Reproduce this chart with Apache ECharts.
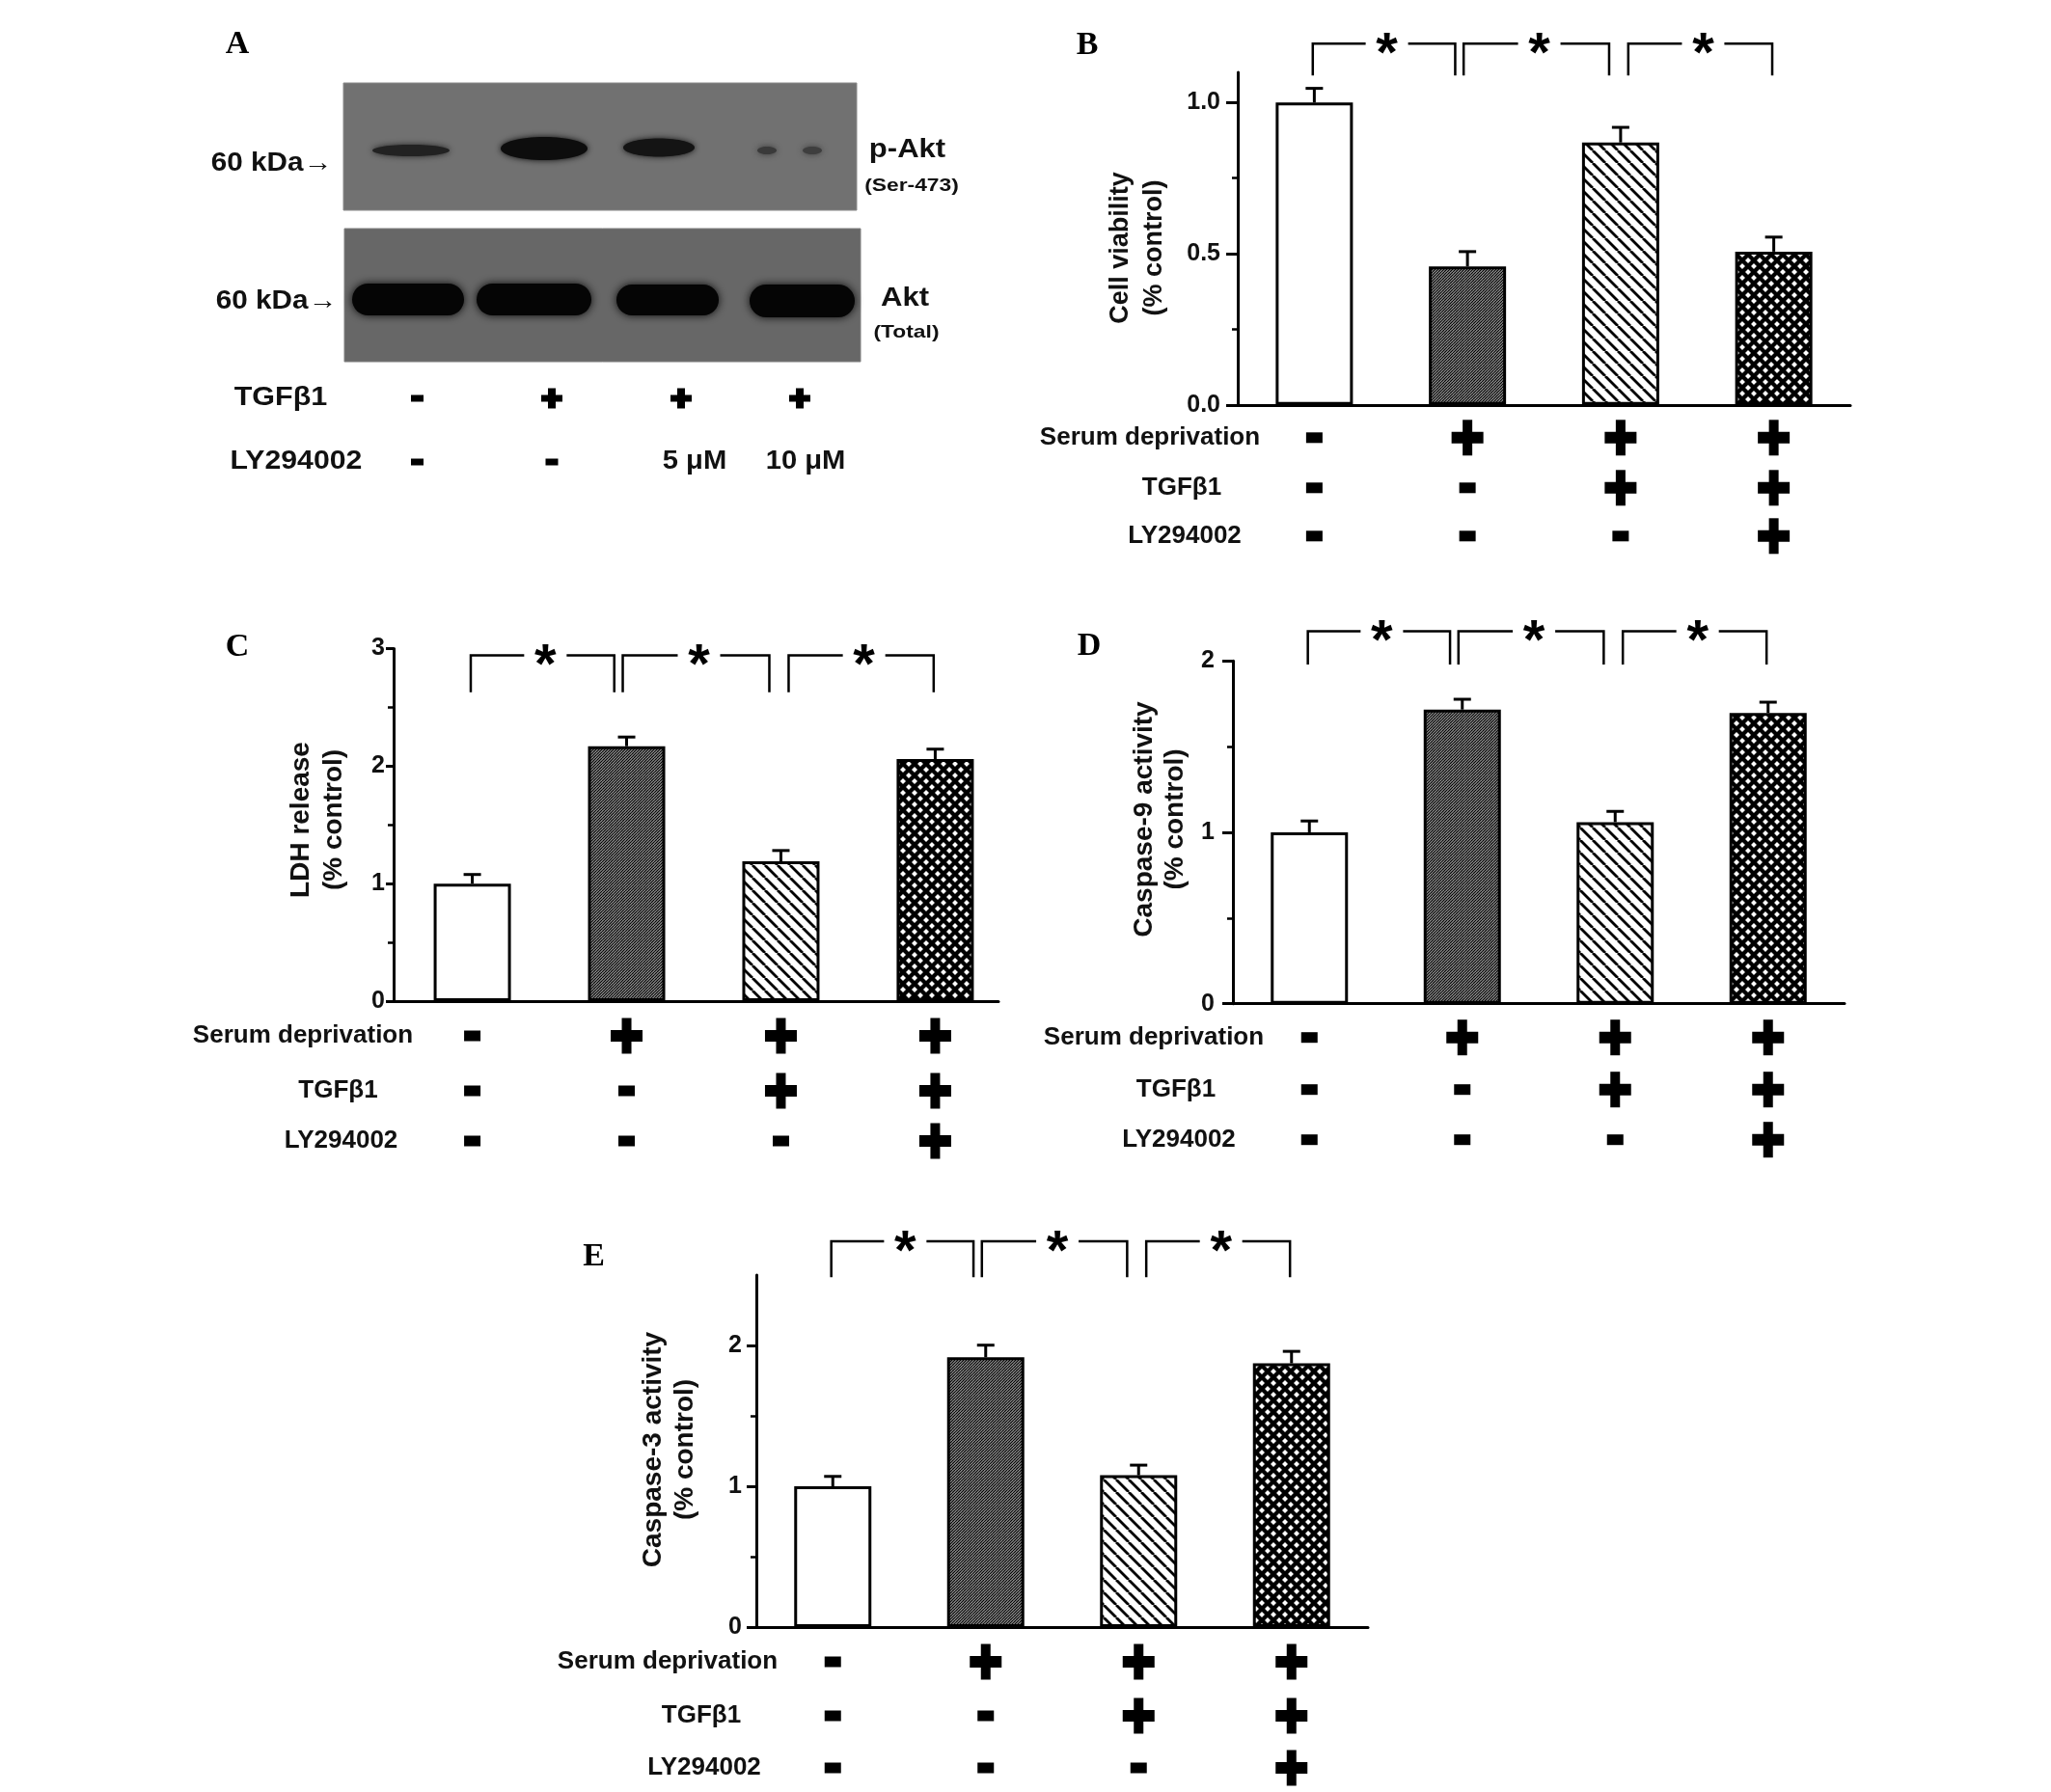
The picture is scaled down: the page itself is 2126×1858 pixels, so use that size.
<!DOCTYPE html>
<html><head><meta charset="utf-8">
<script src="https://cdn.jsdelivr.net/npm/echarts@6/dist/echarts.min.js"></script>
<style>html,body{margin:0;padding:0;background:#fff}#c{width:2126px;height:1858px}</style>
</head><body><div id="c"></div>
<script>
// ---------------- DATA ----------------
const groups = [1, 2, 3, 4];
const cellViability = [1.0, 0.458, 0.868, 0.507];
const cellViabilitySem = [0.047, 0.049, 0.050, 0.048];
const ldhRelease = [1.0, 2.17, 1.19, 2.06];
const ldhReleaseSem = [0.078, 0.078, 0.092, 0.085];
const caspase9 = [1.0, 1.716, 1.059, 1.696];
const caspase9Sem = [0.066, 0.060, 0.063, 0.063];
const caspase3 = [1.0, 1.916, 1.078, 1.873];
const caspase3Sem = [0.070, 0.086, 0.072, 0.085];
const serumDeprivation = [0, 1, 1, 1];
const tgfb1 = [0, 0, 1, 1];
const ly294002 = [0, 0, 0, 1];
const rowLabels = ['Serum deprivation', 'TGFβ1', 'LY294002'];
const comparisonStart = [0.99, 1.975, 3.05];
const comparisonEnd = [1.92, 2.925, 3.99];
const blotTgf = ['-', '+', '+', '+'];
const blotLy = ['-', '-', '5 μM', '10 μM'];
const viabilityTicks = [0, 0.5, 1.0];
const viabilityMinor = [0.25, 0.75];
const ldhTicks = [0, 1, 2, 3];
const ldhMinor = [0.5, 1.5, 2.5];
const caspaseTicks = [0, 1, 2];
const caspaseMinor = [0.5, 1.5];

// ---------------- STYLE / LAYOUT ----------------
const FONT = '"Liberation Sans", Arial, sans-serif';
function makePattern(kind) {
  const c = document.createElement('canvas');
  const ctx = c.getContext('2d');
  if (kind === 'dense') {
    c.width = 6; c.height = 6;
    ctx.fillStyle = '#a0a0a0'; ctx.fillRect(0, 0, 6, 6);
    ctx.strokeStyle = '#000'; ctx.lineWidth = 1.2;
    for (let k = -3; k <= 5; k++) { const s = 3 * k; ctx.beginPath(); ctx.moveTo(s, 0); ctx.lineTo(s - 6, 6); ctx.stroke(); }
  } else if (kind === 'sparse') {
    c.width = 13; c.height = 13;
    ctx.fillStyle = '#fff'; ctx.fillRect(0, 0, 13, 13);
    ctx.strokeStyle = '#000'; ctx.lineWidth = 2.8;
    for (let k = -1; k <= 1; k++) { const s = 13 * k; ctx.beginPath(); ctx.moveTo(s, 0); ctx.lineTo(s + 13, 13); ctx.stroke(); }
  } else if (kind === 'cross') {
    c.width = 12; c.height = 12;
    ctx.fillStyle = '#fff'; ctx.fillRect(0, 0, 12, 12);
    ctx.strokeStyle = '#000'; ctx.lineWidth = 4.3;
    for (let k = -1; k <= 1; k++) {
      const s = 12 * k;
      ctx.beginPath(); ctx.moveTo(s, 0); ctx.lineTo(s + 12, 12); ctx.stroke();
      ctx.beginPath(); ctx.moveTo(s + 12, 0); ctx.lineTo(s, 12); ctx.stroke();
    }
  } else {
    c.width = 4; c.height = 4; ctx.fillStyle = '#fff'; ctx.fillRect(0, 0, 4, 4);
  }
  return { image: c, repeat: 'repeat' };
}
const fills = [makePattern('white'), makePattern('dense'), makePattern('sparse'), makePattern('cross')];

const panels = [
  { letter: 'B', letterPos: [1127, 47], values: cellViability, sem: cellViabilitySem, max: 1.1, ticks: viabilityTicks, minor: viabilityMinor, dec: 1,
    left: 1283, right: 1918, top: 75, bottom: 419.8, xMin: 0.5, xMax: 4.5, tickLen: 12, labelMargin: 18,
    title: 'Cell viability\n(% control)', titlePos: [1179, 257], titleFont: 27, titleLH: 35,
    rowOffsets: [34, 86, 136], labelX: [1192, 1225, 1228], bracketLevel: 1.195, bracketLeg: 1.09 },
  { letter: 'C', letterPos: [246, 671], values: ldhRelease, sem: ldhReleaseSem, max: 3, ticks: ldhTicks, minor: ldhMinor, dec: 0,
    left: 408, right: 1035, top: 672.6, bottom: 1038, xMin: 0.49, xMax: 4.41, tickLen: 8, labelMargin: 9,
    title: 'LDH release\n(% control)', titlePos: [329.5, 850], titleFont: 28, titleLH: 34.5,
    rowOffsets: [36, 93, 145], labelX: [314, 350.5, 353.5], bracketLevel: 2.944, bracketLeg: 2.63 },
  { letter: 'D', letterPos: [1129, 670], values: caspase9, sem: caspase9Sem, max: 2, ticks: caspaseTicks, minor: caspaseMinor, dec: 0,
    left: 1278, right: 1912, top: 685.2, bottom: 1040.7, xMin: 0.5, xMax: 4.5, tickLen: 11, labelMargin: 19,
    title: 'Caspase-9 activity\n(% control)', titlePos: [1202, 849.5], titleFont: 28, titleLH: 32,
    rowOffsets: [35, 89, 141], labelX: [1196, 1219, 1222], bracketLevel: 2.173, bracketLeg: 1.979 },
  { letter: 'E', letterPos: [615.6, 1303], values: caspase3, sem: caspase3Sem, max: 2.5, ticks: caspaseTicks, minor: caspaseMinor, dec: 0,
    left: 784, right: 1418, top: 1322, bottom: 1687, xMin: 0.5, xMax: 4.5, tickLen: 10, labelMargin: 15,
    title: 'Caspase-3 activity\n(% control)', titlePos: [694, 1503], titleFont: 28, titleLH: 33,
    rowOffsets: [36, 92, 146], labelX: [692, 727, 730], bracketLevel: 2.74, bracketLeg: 2.484 }
];
const treatments = [serumDeprivation, tgfb1, ly294002];

const grids = [], xAxes = [], yAxes = [], series = [], graphics = [];

panels.forEach((p, i) => {
  grids.push({ left: p.left, top: p.top, width: p.right - p.left, height: p.bottom - p.top, containLabel: false });
  xAxes.push({ type: 'value', gridIndex: i, min: p.xMin, max: p.xMax, position: 'bottom',
    axisLine: { show: true, onZero: false, lineStyle: { color: '#000', width: 3 } },
    axisTick: { show: false }, axisLabel: { show: false }, splitLine: { show: false } });
  yAxes.push({ type: 'value', gridIndex: i, min: 0, max: p.max, position: 'left',
    axisLine: { show: true, onZero: false, lineStyle: { color: '#000', width: 3 } },
    axisTick: { show: true, length: p.tickLen, customValues: p.ticks, lineStyle: { color: '#000', width: 3 } },
    axisLabel: { show: true, customValues: p.ticks, margin: p.labelMargin, color: '#111', fontSize: 25, fontWeight: 'bold', fontFamily: FONT,
      formatter: v => Number(v).toFixed(p.dec) },
    splitLine: { show: false } });
  yAxes.push({ type: 'value', gridIndex: i, min: 0, max: p.max, position: 'left', offset: 0,
    axisLine: { show: false, onZero: false },
    axisTick: { show: true, length: 6, customValues: p.minor, lineStyle: { color: '#000', width: 2.5 } },
    axisLabel: { show: false }, splitLine: { show: false } });

  const yi = 2 * i;
  series.push({
    type: 'bar', xAxisIndex: i, yAxisIndex: yi, barWidth: 80, z: 2,
    data: p.values.map((v, k) => ({ value: [groups[k], v], itemStyle: { color: fills[k] } })),
    itemStyle: { borderColor: '#000', borderWidth: 3 }, silent: true
  });
  series.push({
    type: 'custom', xAxisIndex: i, yAxisIndex: yi, z: 1, silent: true,
    data: p.values.map((v, k) => [groups[k], v, p.sem[k]]),
    renderItem: (params, api) => {
      const x = api.value(0), v = api.value(1), e = api.value(2);
      const a = api.coord([x, v]), b = api.coord([x, v + e]);
      return { type: 'group', children: [
        { type: 'line', shape: { x1: a[0], y1: a[1], x2: b[0], y2: b[1] }, style: { stroke: '#000', lineWidth: 3 } },
        { type: 'line', shape: { x1: b[0] - 9, y1: b[1], x2: b[0] + 9, y2: b[1] }, style: { stroke: '#000', lineWidth: 3 } }
      ] };
    }
  });
  series.push({
    type: 'custom', xAxisIndex: i, yAxisIndex: yi, z: 3, silent: true, clip: false,
    data: comparisonStart.map((s, k) => [s, comparisonEnd[k]]),
    renderItem: (params, api) => {
      const x1 = api.value(0), x2 = api.value(1);
      const p1 = api.coord([x1, p.bracketLevel]), p2 = api.coord([x2, p.bracketLevel]);
      const l1 = api.coord([x1, p.bracketLeg]), l2 = api.coord([x2, p.bracketLeg]);
      const mid = (p1[0] + p2[0]) / 2 + 3, gap = 22;
      return { type: 'group', children: [
        { type: 'polyline', shape: { points: [l1, p1, [mid - gap, p1[1]]] }, style: { stroke: '#000', lineWidth: 2.5, fill: null } },
        { type: 'polyline', shape: { points: [[mid + gap, p2[1]], p2, l2] }, style: { stroke: '#000', lineWidth: 2.5, fill: null } },
        { type: 'text', style: { text: '*', x: mid, y: p1[1] + 13, fill: '#000', font: 'bold 58px ' + FONT, align: 'center', verticalAlign: 'middle' } }
      ] };
    }
  });
  const symData = [];
  treatments.forEach((row, r) => row.forEach((f, k) => symData.push([groups[k], r, f])));
  series.push({
    type: 'custom', xAxisIndex: i, yAxisIndex: yi, z: 3, silent: true, clip: false,
    data: symData,
    renderItem: (params, api) => {
      const x = api.value(0), r = api.value(1), f = api.value(2);
      const base = api.coord([x, 0]);
      const cx = base[0], cy = base[1] + p.rowOffsets[r];
      const st = { fill: '#000' };
      if (f === 1) {
        return { type: 'group', children: [
          { type: 'rect', shape: { x: cx - 16.5, y: cy - 6, width: 33, height: 12 }, style: st },
          { type: 'rect', shape: { x: cx - 5, y: cy - 18.5, width: 10, height: 37 }, style: st }
        ] };
      }
      return { type: 'rect', shape: { x: cx - 8.5, y: cy - 5.5, width: 17, height: 11 }, style: st };
    }
  });

  // texts
  graphics.push({ type: 'text', x: p.letterPos[0], y: p.letterPos[1], style: { text: p.letter, font: 'bold 34px "Liberation Serif", "Times New Roman", serif', fill: '#000', align: 'center', verticalAlign: 'middle' } });
  graphics.push({ type: 'text', x: p.titlePos[0], y: p.titlePos[1], rotation: Math.PI / 2,
    style: { text: p.title, font: 'bold ' + p.titleFont + 'px ' + FONT, lineHeight: p.titleLH, fill: '#111', align: 'center', verticalAlign: 'middle' } });
  rowLabels.forEach((t, r) => {
    graphics.push({ type: 'text', x: p.labelX[r], y: p.bottom + p.rowOffsets[r],
      style: { text: t, font: 'bold 26px ' + FONT, fill: '#111', align: 'center', verticalAlign: 'middle' } });
  });
});

// ---------------- PANEL A (western blot) ----------------
graphics.push({ type: 'text', x: 246, y: 46, style: { text: 'A', font: 'bold 34px "Liberation Serif", "Times New Roman", serif', fill: '#000', align: 'center', verticalAlign: 'middle' } });
graphics.push({ type: 'rect', shape: { x: 356, y: 86, width: 532, height: 132 }, style: { fill: '#717171', stroke: '#8a8a8a', lineWidth: 1 } });
graphics.push({ type: 'rect', shape: { x: 357, y: 237, width: 535, height: 138 }, style: { fill: '#676767', stroke: '#808080', lineWidth: 1 } });
const pAktBands = [[426, 156, 40, 6, '#222'], [564, 154, 45, 12, '#0d0d0d'], [683, 153, 37, 9.5, '#141414'], [795, 156, 10, 4, '#3a3a3a'], [842, 156, 10, 4, '#3e3e3e']];
pAktBands.forEach(b => graphics.push({ type: 'ellipse', shape: { cx: b[0], cy: b[1], rx: b[2], ry: b[3] }, style: { fill: b[4], shadowBlur: 6, shadowColor: b[4] } }));
const aktBands = [[365, 294, 116, 33], [494, 294, 119, 33], [639, 295, 106, 32], [777, 295, 109, 34]];
aktBands.forEach(b => graphics.push({ type: 'rect', shape: { x: b[0], y: b[1], width: b[2], height: b[3], r: b[3] / 2 }, style: { fill: '#050505', shadowBlur: 8, shadowColor: '#0a0a0a' } }));

function aText(t, x, y, size, sx) {
  graphics.push({ type: 'text', x: x, y: y, scaleX: sx, style: { x: 0, y: 0, text: t, font: 'bold ' + size + 'px ' + FONT, fill: '#111', align: 'center', verticalAlign: 'middle' } });
}
aText('60 kDa→', 281.5, 170, 27, 1.1);
aText('60 kDa→', 286.5, 313, 27, 1.1);
aText('p-Akt', 940.5, 156, 27, 1.15);
aText('(Ser-473)', 945, 193, 19, 1.2);
aText('Akt', 938, 310, 27, 1.15);
aText('(Total)', 939.5, 345, 19, 1.2);
aText('TGFβ1', 291, 413, 27, 1.13);
aText('LY294002', 307, 479, 27, 1.12);
const blotLaneX = [432.5, 572, 706, 829];
function aSymbol(s, x, y) {
  if (s === '+') {
    graphics.push({ type: 'rect', shape: { x: x - 11, y: y - 3.5, width: 22, height: 7 }, style: { fill: '#000' } });
    graphics.push({ type: 'rect', shape: { x: x - 4, y: y - 10.5, width: 8, height: 21 }, style: { fill: '#000' } });
  } else if (s === '-') {
    graphics.push({ type: 'rect', shape: { x: x - 6.5, y: y - 3.5, width: 13, height: 7 }, style: { fill: '#000' } });
  } else {
    aText(s, x + (s.length > 4 ? 6 : 14), y, 27, 1.08);
  }
}
blotTgf.forEach((s, k) => aSymbol(s, blotLaneX[k], 413));
blotLy.forEach((s, k) => aSymbol(s, blotLaneX[k], 479));

const chart = echarts.init(document.getElementById('c'), null, { renderer: 'canvas' });
chart.setOption({
  animation: false,
  backgroundColor: '#fff',
  grid: grids, xAxis: xAxes, yAxis: yAxes, series: series,
  graphic: { elements: graphics }
});
</script></body></html>
